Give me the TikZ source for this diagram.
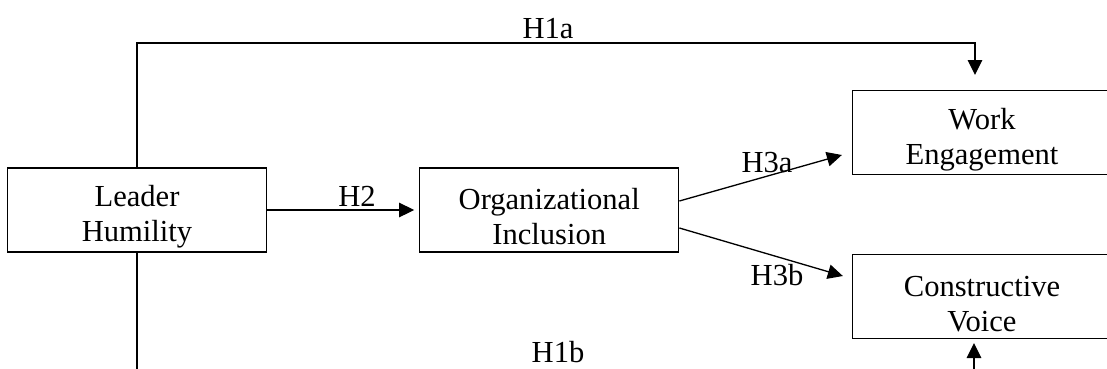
\documentclass[tikz,border=0pt]{standalone}
\usepackage{fontspec}
\setmainfont{Liberation Serif}
\usetikzlibrary{arrows.meta, positioning}

% first line of a box sits a bit low, as in the reference
\newcommand{\lowtext}{\rule{0pt}{20pt}}

\begin{document}
\begin{tikzpicture}[
        x=0.02cm, y=-0.02cm,
        node distance=1.5cm and 3.04cm,
        font=\fontsize{17.4}{19.9}\selectfont,
        block/.style={rectangle, draw, line width=0.75pt, minimum width=5.18cm, minimum height=1.68cm, inner sep=1pt, align=center},
        line/.style={draw, line width=0.75pt, -{Triangle[length=0.3cm, width=0.29cm]}},
        hyp/.style={inner sep=0pt}
        ]
        \useasboundingbox (0,0) rectangle (1107,369);
        \clip (0,0) rectangle (1107,369);

        \node[block] (leader) at (137,210) {\lowtext Leader\\Humility};
        \node[block, right=of leader] (org) {\lowtext Organizational\\Inclusion};
        \node[block] (work) at (982,132.5) {\lowtext Work\\Engagement};
        \node[block] (voice) at (982,296.5) {\lowtext Constructive\\Voice};

        \coordinate (h1atop) at (975,43);
        \coordinate (h1aend) at (975,75);
        \coordinate (h1bbot) at (974,400);
        \coordinate (h1bend) at (974,343);

        \path[line] (leader.north) |- (h1atop) -- (h1aend);
        \path[line] (leader.south) |- (h1bbot) -- (h1bend);
        \path[line, shorten >=0.1cm] (leader) -- (org);
        \path[line] ([yshift=0.18cm]org.east) -- ([xshift=-0.2cm, yshift=-0.45cm]work.west);
        \path[line] ([yshift=-0.36cm]org.east) -- ([xshift=-0.18cm, yshift=0.41cm]voice.west);

        \node[hyp] (h1a) at (548,29) {H1a};
        \node[hyp] (h2) at (357,196) {H2};
        \node[hyp] (h3a) at (767,163) {H3a};
        \node[hyp] (h3b) at (777,275) {H3b};
        \node[hyp] (h1b) at (558,352) {H1b};
      \end{tikzpicture}
\end{document}
